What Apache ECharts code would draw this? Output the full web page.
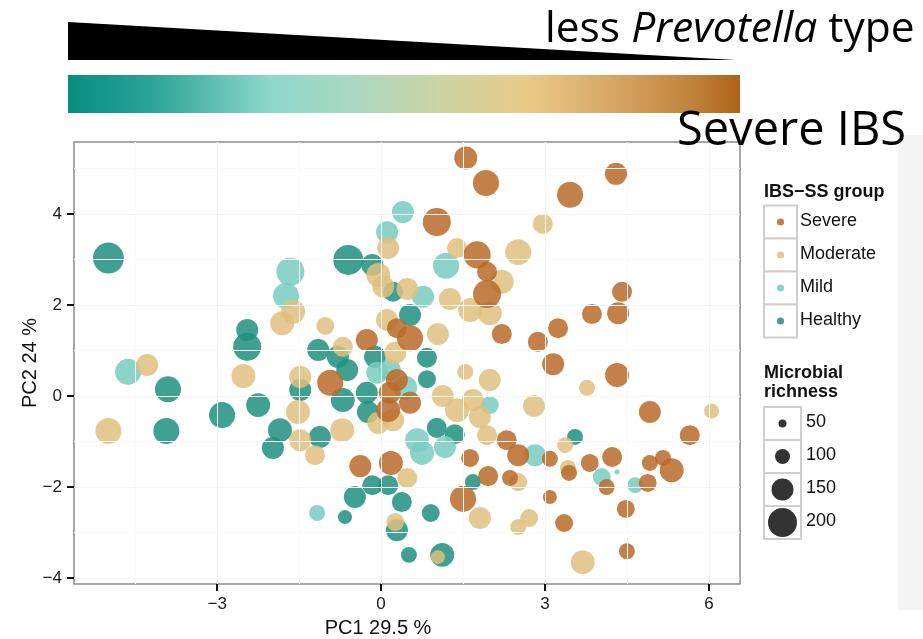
<!DOCTYPE html>
<html><head><meta charset="utf-8">
<script src="https://cdn.jsdelivr.net/npm/echarts@6/dist/echarts.min.js"></script>
<style>html,body{margin:0;padding:0;background:#fff}#c{width:923px;height:639px}</style>
</head><body><div id="c"></div>
<script>
// ---- data ----
const groupNames = ['Severe', 'Moderate', 'Mild', 'Healthy'];
const xTicks = [-3, 0, 3, 6];
const yTicks = [-4, -2, 0, 2, 4];
const xMinor = [-4.5, -1.5, 1.5, 4.5];
const yMinor = [-3, -1, 1, 3, 5];
const sizeLegendValues = [50, 100, 150, 200];

const healthyX = [-4.99,-3.90,-3.93,-2.91,-2.25,-1.85,-1.98,-2.45,-2.45,-1.15,-0.79,-1.48,-0.62,-0.70,-1.12,-0.60,-0.16,0.22,0.53,0.84,0.84,-0.11,-0.26,-0.24,-0.16,-0.48,-0.66,0.13,0.29,0.38,0.51,1.12,0.91,1.02,1.35,1.68,3.55];
const healthyY = [3.03,0.15,-0.77,-0.42,-0.20,-0.75,-1.14,1.45,1.08,1.01,0.86,0.13,0.57,-0.09,-0.90,2.99,2.88,2.29,1.78,0.84,0.37,0.86,0.07,-0.35,-1.96,-2.22,-2.66,-1.96,-2.95,-2.33,-3.49,-3.49,-2.57,-0.70,-0.84,-1.89,-0.90];
const healthyR = [214,179,179,179,164,164,150,150,193,150,150,150,150,164,150,207,150,136,150,136,121,150,150,150,136,150,93,136,150,136,107,164,121,136,136,107,107];

const mildX = [-4.63,-1.66,-1.74,0.11,0.40,1.19,0.77,-0.07,0.16,0.44,1.99,0.66,0.75,1.17,2.82,4.04,4.32,4.65,-1.17];
const mildY = [0.53,2.73,2.20,3.60,4.04,2.86,2.18,0.51,0.57,0.18,-0.20,-0.97,-1.25,-1.12,-1.30,-1.78,-1.67,-1.96,-2.57];
const mildR = [179,193,179,150,150,179,150,150,150,164,121,164,164,150,150,121,29,107,107];

const moderateX = [-4.99,-4.28,-2.52,-1.52,-1.48,-1.21,-1.48,-0.71,-1.61,-1.81,-1.02,0.13,-0.05,0.04,0.11,0.48,1.04,1.39,2.51,2.96,2.21,1.26,1.63,1.99,0.26,1.54,1.99,3.77,2.80,6.05,1.13,1.39,1.68,1.81,1.94,-0.05,0.22,0.48,0.26,1.81,2.51,2.71,3.42,2.51,3.69,1.04,-0.70,3.37];
const moderateY = [-0.77,0.68,0.44,-0.35,-0.97,-1.30,0.42,-0.75,1.85,1.60,1.54,3.25,2.66,2.40,1.67,2.35,1.36,3.25,3.16,3.78,2.51,2.13,1.89,1.82,0.95,0.53,0.35,0.18,-0.22,-0.33,0.00,-0.31,-0.09,-0.46,-0.86,-0.59,-0.53,-1.80,-2.77,-2.68,-2.88,-2.68,-1.58,-1.89,-3.65,-3.54,1.08,-1.08];
const moderateR = [179,150,164,164,150,136,150,164,164,164,121,150,164,150,150,150,150,136,179,136,164,150,164,164,150,107,150,107,150,100,150,164,150,150,136,150,150,136,121,150,107,121,107,121,164,93,136,107];

const severeX = [1.55,1.92,4.30,3.46,1.02,1.76,1.94,1.94,0.53,0.29,-0.26,2.21,2.87,3.24,3.86,4.34,4.41,3.15,4.32,-0.93,0.29,0.16,0.53,0.13,-0.38,0.18,2.30,2.51,1.63,1.96,2.36,1.50,3.09,3.09,3.44,3.35,3.82,4.23,4.13,4.92,5.65,4.92,5.16,5.32,4.88,4.48,4.50];
const severeY = [5.23,4.68,4.88,4.42,3.82,3.10,2.73,2.24,1.27,1.49,1.23,1.36,1.19,1.49,1.80,1.82,2.29,0.70,0.46,0.29,0.35,0.07,-0.15,-0.31,-1.54,-1.47,-0.97,-1.30,-1.36,-1.76,-1.80,-2.26,-1.38,-2.22,-1.69,-2.79,-1.47,-1.34,-2.00,-0.35,-0.86,-1.47,-1.36,-1.63,-1.91,-2.48,-3.41];
const severeR = [157,179,150,179,193,186,136,193,179,136,150,136,136,136,136,150,136,150,164,179,150,150,150,164,150,164,136,150,121,136,107,179,107,93,107,121,121,136,107,150,136,107,107,164,121,121,107];

// ---- styles ----
const colors = { Severe: '#B86A28', Moderate: '#DFC07F', Mild: '#78CCC0', Healthy: '#1F9080' };
const sizeOf = r => 0.14 * r + 1;
const fmt = v => (v < 0 ? '\u2212' + Math.abs(v) : String(v));
const AX_FONT = "'Liberation Sans', Arial, sans-serif";
const TOP_FONT = "'Open Sans', 'Liberation Sans', sans-serif";

const pts = (xs, ys, rs) => xs.map((x, i) => [x, ys[i], rs[i]]);
const groups = [
  { name: 'Healthy', data: pts(healthyX, healthyY, healthyR) },
  { name: 'Mild', data: pts(mildX, mildY, mildR) },
  { name: 'Moderate', data: pts(moderateX, moderateY, moderateR) },
  { name: 'Severe', data: pts(severeX, severeY, severeR) }
];

const gridLines = []
  .concat(xMinor.map(v => ({ xAxis: v, lineStyle: { color: '#fafafa', width: 1, type: 'solid' } })))
  .concat(yMinor.map(v => ({ yAxis: v, lineStyle: { color: '#fafafa', width: 1, type: 'solid' } })))
  .concat(xTicks.map(v => ({ xAxis: v, lineStyle: { color: '#f4f4f4', width: 1, type: 'solid' } })))
  .concat(yTicks.map(v => ({ yAxis: v, lineStyle: { color: '#f4f4f4', width: 1, type: 'solid' } })));

// ---- legend graphics ----
const legend = [];
legend.push({ type: 'text', left: 764, top: 183, style: { text: 'IBS\u2212SS group', font: "bold 18px " + AX_FONT, fill: '#111' } });
groupNames.forEach((g, i) => {
  const cy = 222 + i * 33;
  legend.push({ type: 'rect', shape: { x: 764, y: cy - 16.5, width: 33, height: 33 }, style: { fill: '#fff', stroke: '#cfcfcf', lineWidth: 2 } });
  legend.push({ type: 'circle', shape: { cx: 780.5, cy: cy, r: 3.6 }, style: { fill: colors[g], opacity: 0.85 } });
  legend.push({ type: 'text', left: 800, top: cy - 10, style: { text: g, font: "18px " + AX_FONT, fill: '#111' } });
});
legend.push({ type: 'text', left: 764, top: 364, style: { text: 'Microbial\nrichness', font: "bold 18px " + AX_FONT, fill: '#111', lineHeight: 19 } });
sizeLegendValues.forEach((v, i) => {
  const cy = 423.5 + i * 33;
  legend.push({ type: 'rect', shape: { x: 764, y: cy - 16.5, width: 37, height: 33 }, style: { fill: '#fff', stroke: '#cfcfcf', lineWidth: 2 } });
  legend.push({ type: 'circle', shape: { cx: 782.5, cy: cy, r: sizeOf(v) / 2 }, style: { fill: '#333' } });
  legend.push({ type: 'text', left: 806, top: cy - 10, style: { text: String(v), font: "18px " + AX_FONT, fill: '#111' } });
});

const topGraphics = [
  { type: 'polygon', shape: { points: [[68, 22], [736, 60], [68, 60]] }, style: { fill: '#000' } },
  { type: 'rect', shape: { x: 68, y: 75, width: 672, height: 38 },
    style: { fill: new echarts.graphic.LinearGradient(0, 0, 1, 0, [
      { offset: 0, color: '#068d82' }, { offset: 0.12, color: '#2aa297' }, { offset: 0.3, color: '#8bd8ca' },
      { offset: 0.42, color: '#a9d8c2' }, { offset: 0.56, color: '#cdd4a2' }, { offset: 0.68, color: '#eacb88' },
      { offset: 0.82, color: '#d6a460' }, { offset: 0.93, color: '#c0823a' }, { offset: 1, color: '#b0621c' }]) } },
  { type: 'rect', shape: { x: 898, y: 135, width: 25, height: 475 }, style: { fill: '#f3f3f3' } },
  { type: 'text', left: 545, top: 8, z: 100,
    style: { text: '{a|less }{b|Prevotella}{a| type}', rich: {
      a: { fontFamily: TOP_FONT, fontSize: 42.5, fill: '#000' },
      b: { fontFamily: TOP_FONT, fontSize: 42.5, fontStyle: 'italic', fill: '#000' } } } },
  { type: 'text', left: 677, top: 108, z: 100, style: { text: 'Severe IBS', font: "47px " + TOP_FONT, fill: '#000' } },
  { type: 'text', x: 378, y: 628, style: { text: 'PC1 29.5 %', font: "20px " + AX_FONT, fill: '#111', align: 'center', verticalAlign: 'middle' } },
  { type: 'text', x: 30, y: 363, rotation: Math.PI / 2, style: { text: 'PC2 24 %', font: "20px " + AX_FONT, fill: '#111', align: 'center', verticalAlign: 'middle' } }
];

const chart = echarts.init(document.getElementById('c'), null, { renderer: 'canvas' });
chart.setOption({
  animation: false,
  backgroundColor: '#fff',
  grid: { left: 74, top: 142, width: 666, height: 442, show: true, borderColor: '#8c8c8c', borderWidth: 1.5, backgroundColor: '#fff' },
  xAxis: {
    type: 'value', min: -5.62, max: 6.57, position: 'bottom',
    axisLine: { show: false, onZero: false }, splitLine: { show: false },
    axisTick: { show: true, customValues: xTicks, length: 7, lineStyle: { color: '#111', width: 2 } },
    axisLabel: { customValues: xTicks, formatter: fmt, color: '#1a1a1a', fontSize: 17, fontFamily: AX_FONT, margin: 12 }
  },
  yAxis: {
    type: 'value', min: -4.13, max: 5.58, position: 'left',
    axisLine: { show: false, onZero: false }, splitLine: { show: false },
    axisTick: { show: true, customValues: yTicks, length: 7, lineStyle: { color: '#111', width: 2 } },
    axisLabel: { customValues: yTicks, formatter: fmt, color: '#1a1a1a', fontSize: 17, fontFamily: AX_FONT, margin: 12 }
  },
  series: [
    { type: 'scatter', name: 'grid', data: [], silent: true,
      markLine: { silent: true, symbol: ['none', 'none'], label: { show: false }, animation: false, data: gridLines } }
  ].concat(groups.map(g => ({
    type: 'scatter', name: g.name, data: g.data,
    symbolSize: d => sizeOf(d[2]),
    itemStyle: { color: colors[g.name], opacity: 0.85 },
    emphasis: { disabled: true }, silent: true
  }))),
  graphic: topGraphics.concat(legend)
});
</script></body></html>
